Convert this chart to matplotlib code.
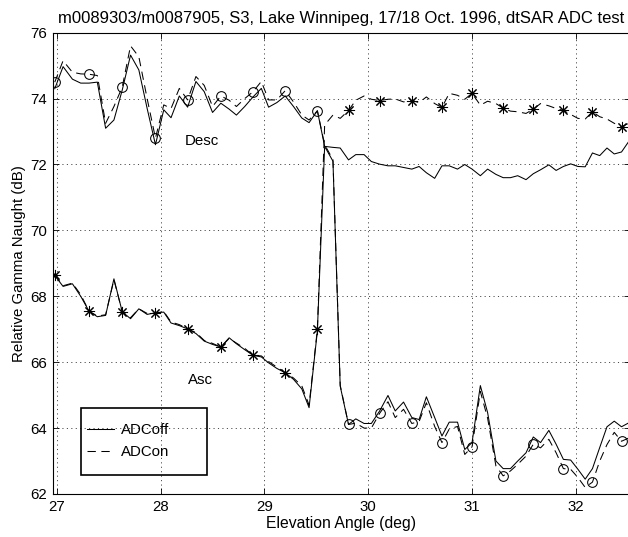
import matplotlib
matplotlib.use('Agg')
import matplotlib.pyplot as plt
from matplotlib.lines import Line2D
from matplotlib.patches import Rectangle

plt.rcParams['font.family'] = ['Liberation Sans', 'DejaVu Sans']
plt.rcParams['font.size'] = 10.8
plt.rcParams['lines.scale_dashes'] = False

# elevation angle samples (deg)
angle = [26.98, 27.06, 27.15, 27.23, 27.31, 27.39, 27.47, 27.55,
         27.63, 27.71, 27.79, 27.87, 27.95, 28.03, 28.10, 28.18,
         28.26, 28.34, 28.42, 28.50, 28.58, 28.66, 28.73, 28.81,
         28.89, 28.97, 29.04, 29.12, 29.20, 29.28, 29.36, 29.43,
         29.51, 29.58, 29.66, 29.73, 29.81, 29.88, 29.96, 30.03,
         30.11, 30.19, 30.26, 30.34, 30.42, 30.49, 30.56, 30.64,
         30.71, 30.78, 30.86, 30.93, 31.00, 31.08, 31.15, 31.23,
         31.30, 31.37, 31.44, 31.52, 31.59, 31.66, 31.74, 31.81,
         31.88, 31.95, 32.02, 32.09, 32.16, 32.23, 32.30, 32.37,
         32.44, 32.51]

# descending pass, ADC off / on (dB)
desc_off = [74.30, 74.97, 74.59, 74.47, 74.47, 74.50, 73.10, 73.35,
            74.26, 75.32, 74.87, 73.70, 72.60, 73.66, 73.42, 74.08,
            73.74, 74.52, 74.21, 73.58, 73.86, 73.68, 73.50, 73.76,
            74.05, 74.31, 73.74, 73.88, 74.08, 73.76, 73.41, 73.27,
            73.63, 72.55, 72.52, 72.50, 72.14, 72.30, 72.30, 72.09,
            72.01, 71.96, 71.96, 71.91, 71.86, 71.94, 71.75, 71.58,
            71.96, 71.96, 71.86, 72.00, 71.86, 71.66, 71.86, 71.70,
            71.60, 71.60, 71.66, 71.54, 71.72, 71.84, 71.99, 71.82,
            71.94, 72.02, 71.94, 71.93, 72.35, 72.27, 72.50, 72.32,
            72.38, 72.70]
desc_on = [74.50, 75.15, 74.80, 74.75, 74.74, 74.70, 73.25, 73.76,
           74.35, 75.60, 75.27, 74.00, 72.80, 73.81, 73.70, 74.31,
           73.96, 74.67, 74.40, 73.76, 74.08, 73.95, 73.76, 74.00,
           74.21, 74.52, 73.96, 73.96, 74.24, 73.90, 73.50, 73.35,
           73.63, 72.60, 72.15, 65.30, 64.11, 64.15, 64.00, 64.00,
           64.45, 64.80, 64.32, 64.57, 64.14, 64.20, 64.77, 64.05,
           63.56, 63.97, 64.05, 63.20, 63.43, 65.11, 64.30, 62.85,
           62.55, 62.70, 62.90, 63.15, 63.51, 63.40, 63.66, 63.25,
           62.77, 62.75, 62.50, 62.20, 62.36, 63.00, 63.50, 63.87,
           63.60, 63.70]

# ascending pass, ADC off / on (dB)
asc_off = [68.63, 68.30, 68.38, 68.00, 67.55, 67.38, 67.42, 68.53,
           67.53, 67.32, 67.62, 67.45, 67.50, 67.52, 67.19, 67.11,
           67.01, 66.87, 66.64, 66.54, 66.46, 66.74, 66.56, 66.38,
           66.21, 66.16, 65.98, 65.81, 65.68, 65.48, 65.19, 64.62,
           66.95, 72.55, 72.10, 65.27, 64.11, 64.28, 64.14, 64.14,
           64.52, 64.99, 64.52, 64.79, 64.32, 64.26, 64.95, 64.32,
           63.76, 64.18, 64.18, 63.35, 63.56, 65.29, 64.47, 63.00,
           62.77, 62.77, 63.00, 63.25, 63.73, 63.56, 63.93, 63.51,
           63.05, 63.03, 62.75, 62.45, 62.77, 63.41, 64.04, 64.21,
           64.04, 64.16]
asc_on = [68.65, 68.32, 68.40, 68.05, 67.55, 67.40, 67.44, 68.50,
          67.53, 67.35, 67.62, 67.48, 67.48, 67.54, 67.22, 67.14,
          67.01, 66.90, 66.66, 66.57, 66.46, 66.72, 66.58, 66.42,
          66.21, 66.19, 66.02, 65.85, 65.68, 65.52, 65.28, 64.70,
          67.00, 73.20, 73.50, 73.40, 73.64, 73.95, 74.08, 73.98,
          73.94, 73.98, 73.99, 73.90, 73.94, 73.88, 74.05, 73.85,
          73.73, 74.16, 74.10, 73.98, 74.16, 73.80, 73.92, 73.85,
          73.71, 73.62, 73.60, 73.55, 73.68, 73.85, 73.78, 73.70,
          73.64, 73.52, 73.40, 73.38, 73.60, 73.45, 73.38, 73.25,
          73.15, 73.25]

dash = (6, 4)
lw = 0.75

fig = plt.figure(figsize=(6.28, 5.37), dpi=100)
ax = fig.add_axes([0.0839, 0.0801, 0.919, 0.859])

ax.plot(angle, desc_off, color='k', lw=lw)
ax.plot(angle, desc_on, color='k', lw=lw, dashes=dash,
        marker='o', markevery=4, ms=7, mfc='none', mec='k', mew=0.75)
ax.plot(angle, asc_off, color='k', lw=lw)
ax.plot(angle, asc_on, color='k', lw=lw, dashes=dash,
        marker=(8, 2, 0), markevery=4, ms=8, mec='k', mew=0.75)

ax.text(28.23, 72.70, 'Desc', va='center', ha='left')
ax.text(28.26, 65.47, 'Asc', va='center', ha='left')

ax.set_xlim(26.96, 32.52)
ax.set_ylim(62, 76)
ax.set_xticks([27, 28, 29, 30, 31, 32])
ax.set_yticks([62, 64, 66, 68, 70, 72, 74, 76])
ax.grid(True, color='k', lw=0.5, linestyle=(0, (0.8, 2.4)))
ax.tick_params(direction='in', length=4, width=0.6, top=True, right=True, pad=4)
for s in ax.spines.values():
    s.set_linewidth(0.8)

ax.set_xlabel('Elevation Angle (deg)', fontsize=11.3, labelpad=2)
ax.set_ylabel('Relative Gamma Naught (dB)', labelpad=3)
ax.set_title('m0089303/m0087905, S3, Lake Winnipeg, 17/18 Oct. 1996, dtSAR ADC test',
             fontsize=12.0, pad=7)

# legend: entries without frame, box drawn separately (MATLAB-style wide box)
handles = [Line2D([], [], color='k', lw=lw),
           Line2D([], [], color='k', lw=lw, dashes=dash)]
ax.legend(handles, ['ADCoff', 'ADCon'], loc='center left',
          bbox_to_anchor=(0.0589, 0.1141), borderaxespad=0, borderpad=0,
          frameon=False, handlelength=1.85, handletextpad=0.45,
          labelspacing=0.55)
ax.add_patch(Rectangle((0.049, 0.0412), 0.2177, 0.1459, transform=ax.transAxes,
                       fill=False, edgecolor='k', lw=1.2, zorder=5))

fig.savefig('out.png', dpi=100)
